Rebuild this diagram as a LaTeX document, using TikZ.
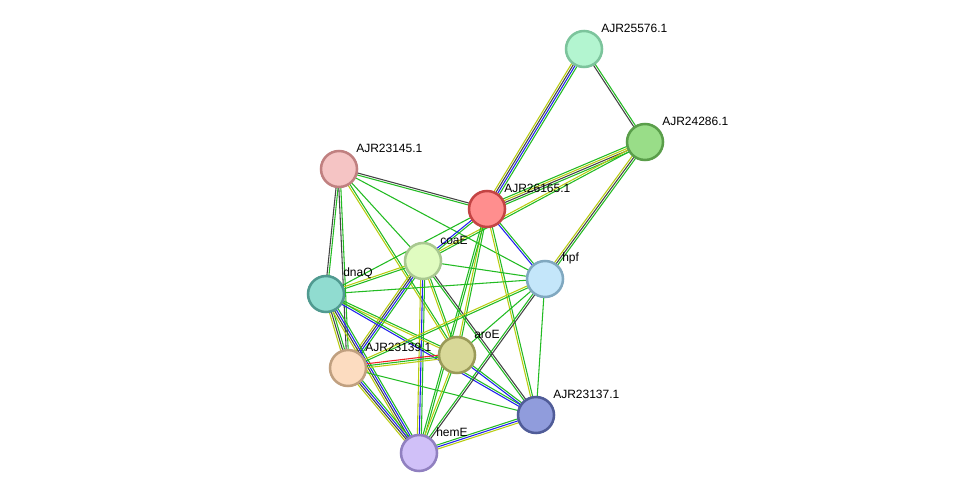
\documentclass[tikz,border=0pt]{standalone}
\usepackage{fontspec}
\setmainfont{Liberation Sans}
\usetikzlibrary{calc,backgrounds}
\definecolor{eg}{HTML}{22BB22}
\definecolor{eb}{HTML}{2222EE}
\definecolor{ek}{HTML}{444444}
\definecolor{ey}{HTML}{B8CC10}
\definecolor{er}{HTML}{EE2222}
\tikzset{
  prot/.style={circle,minimum size=27pt,inner sep=0pt,line width=1.9pt},
  lbl/.style={anchor=west,inner sep=0pt,font=\fontsize{9}{10}\selectfont},
}
% edge with parallel coloured lines
\newcommand{\ppiedge}[3]{%
  \foreach \c [count=\n] in {#3}{\xdef\ecount{\n}}
  \foreach \c [count=\i] in {#3}{%
    \pgfmathsetmacro\off{(\i-(\ecount+1)/2)*1.5}
    \draw[\c,line width=0.8pt] ($(#1)!\off pt!90:(#2)$) -- ($(#2)!\off pt!-90:(#1)$);
  }}
\begin{document}
\begin{tikzpicture}[x=0.75pt,y=0.75pt,yscale=-1]
  \useasboundingbox (0,0) rectangle (975,499);

  % proteins
  \node[prot,fill={rgb,255:red,179;green,245;blue,208},draw={rgb,255:red,124;green,196;blue,156}] (p25576) at (584,49) {};
  \node[prot,fill={rgb,255:red,153;green,221;blue,136},draw={rgb,255:red,90;green,158;blue,74}] (p24286) at (645,142) {};
  \node[prot,fill={rgb,255:red,245;green,196;blue,196},draw={rgb,255:red,192;green,128;blue,128}] (p23145) at (339,169) {};
  \node[prot,fill={rgb,255:red,255;green,142;blue,142},draw={rgb,255:red,196;green,68;blue,68}] (p26165) at (487,209) {};
  \node[prot,fill={rgb,255:red,224;green,252;blue,192},draw={rgb,255:red,168;green,200;blue,144}] (coaE) at (423,261) {};
  \node[prot,fill={rgb,255:red,196;green,230;blue,250},draw={rgb,255:red,128;green,168;blue,192}] (hpf) at (545,279) {};
  \node[prot,fill={rgb,255:red,144;green,220;blue,208},draw={rgb,255:red,80;green,154;blue,144}] (dnaQ) at (326,294) {};
  \node[prot,fill={rgb,255:red,216;green,216;blue,152},draw={rgb,255:red,154;green,154;blue,88}] (aroE) at (457,355) {};
  \node[prot,fill={rgb,255:red,252;green,220;blue,192},draw={rgb,255:red,192;green,160;blue,128}] (p23139) at (348,368) {};
  \node[prot,fill={rgb,255:red,144;green,156;blue,220},draw={rgb,255:red,80;green,92;blue,152}] (p23137) at (536,415) {};
  \node[prot,fill={rgb,255:red,208;green,192;blue,248},draw={rgb,255:red,144;green,128;blue,192}] (hemE) at (419,453) {};

  % labels
  \node[lbl] (l25576) at ($(p25576)+(17,-21)$) {AJR25576.1};
  \node[lbl] (l24286) at ($(p24286)+(17,-21)$) {AJR24286.1};
  \node[lbl] (l23145) at ($(p23145)+(17,-21)$) {AJR23145.1};
  \node[lbl] (l26165) at ($(p26165)+(17,-21)$) {AJR26165.1};
  \node[lbl] (lcoaE) at ($(coaE)+(17,-21)$) {coaE};
  \node[lbl] (lhpf) at ($(hpf)+(17,-21)$) {hpf};
  \node[lbl] (ldnaQ) at ($(dnaQ)+(17,-21)$) {dnaQ};
  \node[lbl] (laroE) at ($(aroE)+(17,-21)$) {aroE};
  \node[lbl] (l23139) at ($(p23139)+(17,-21)$) {AJR23139.1};
  \node[lbl] (l23137) at ($(p23137)+(17,-21)$) {AJR23137.1};
  \node[lbl] (lhemE) at ($(hemE)+(17,-21)$) {hemE};

  % interactions
  \begin{pgfonlayer}{background}
    \ppiedge{p25576}{p26165}{eg,eb,ek,ey}
    \ppiedge{p25576}{p24286}{eg,ek}
    \ppiedge{p24286}{p26165}{eg,ek,ey,eg}
    \ppiedge{p24286}{coaE}{eg,ey}
    \ppiedge{p24286}{hpf}{eg,ek,ey}
    \ppiedge{p23145}{p26165}{ek,eg}
    \ppiedge{p23145}{dnaQ}{eg,ek}
    \ppiedge{p23145}{p23139}{eg,ek}
    \ppiedge{p23145}{coaE}{eg}
    \ppiedge{p23145}{aroE}{eg,ey}
    \ppiedge{p23145}{hpf}{eg}
    \ppiedge{p26165}{coaE}{eg,eb}
    \ppiedge{p26165}{dnaQ}{eg}
    \ppiedge{p26165}{hpf}{eg,eb}
    \ppiedge{p26165}{aroE}{eg,ey}
    \ppiedge{p26165}{hemE}{eg,eg}
    \ppiedge{p26165}{p23137}{eg,ey}
    \ppiedge{coaE}{dnaQ}{eg,ey}
    \ppiedge{coaE}{hpf}{eg}
    \ppiedge{coaE}{p23139}{eg,eb,ek,ey}
    \ppiedge{coaE}{hemE}{eg,eb,ey}
    \ppiedge{coaE}{aroE}{eg,ey}
    \ppiedge{coaE}{p23137}{ek,eg}
    \ppiedge{dnaQ}{hpf}{eg}
    \ppiedge{dnaQ}{p23139}{eg,ek,ey}
    \ppiedge{dnaQ}{aroE}{eg,ey}
    \ppiedge{dnaQ}{p23137}{eg,eb}
    \ppiedge{dnaQ}{hemE}{eg,eb,ek,ey}
    \ppiedge{hpf}{p23139}{eg,ey}
    \ppiedge{hpf}{aroE}{eg}
    \ppiedge{hpf}{hemE}{ek,eg}
    \ppiedge{hpf}{p23137}{eg}
    \ppiedge{p23139}{aroE}{er,eg,ey}
    \ppiedge{p23139}{hemE}{eg,eb,ek,ey}
    \ppiedge{p23139}{p23137}{eg}
    \ppiedge{aroE}{hemE}{eg,ey}
    \ppiedge{aroE}{p23137}{eg,eb}
    \ppiedge{hemE}{p23137}{eg,eb,ey}
  \end{pgfonlayer}
\end{tikzpicture}
\end{document}
